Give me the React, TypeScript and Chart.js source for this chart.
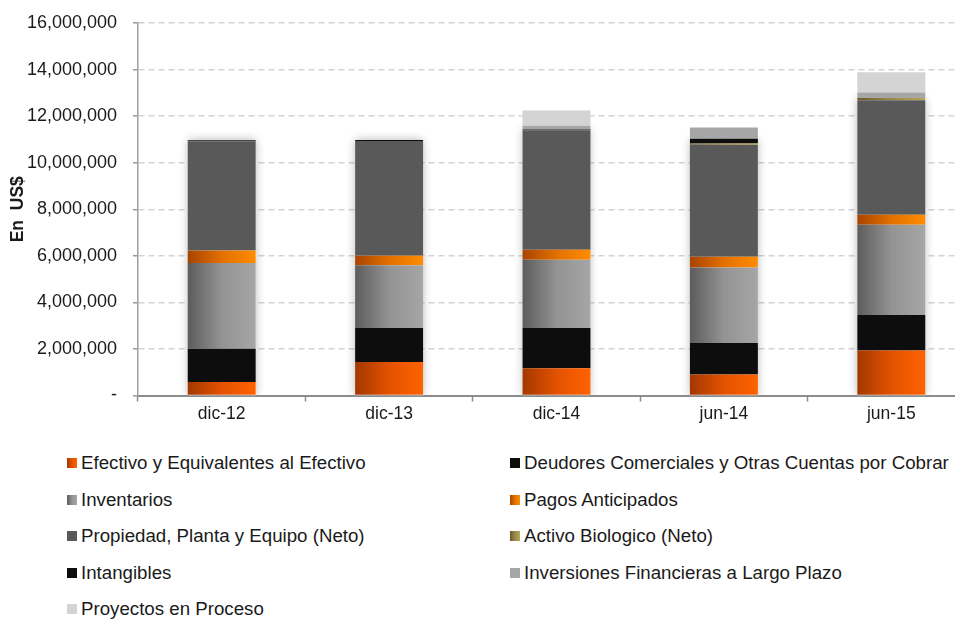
import React, { useEffect, useRef } from "react";
import { Chart, registerables } from "chart.js";

Chart.register(...registerables);

const categories = ["dic-12", "dic-13", "dic-14", "jun-14", "jun-15"];

const efectivo = [580000, 1440000, 1170000, 900000, 1930000];
const deudores = [1430000, 1460000, 1730000, 1360000, 1530000];
const inventarios = [3680000, 2700000, 2930000, 3240000, 3870000];
const pagos = [540000, 400000, 430000, 460000, 430000];
const propiedad = [4690000, 4930000, 5130000, 4810000, 4920000];
const activoBio = [0, 0, 0, 50000, 100000];
const intangibles = [40000, 40000, 40000, 210000, 0];
const inversiones = [0, 0, 160000, 480000, 240000];
const proyectos = [0, 0, 650000, 0, 860000];

const yTicks = [0, 2000000, 4000000, 6000000, 8000000, 10000000, 12000000, 14000000, 16000000];

const FONT = "'Liberation Sans', Arial, Helvetica, sans-serif";
const TEXT = "#1a1a1a";
const BAR_PCT = 0.406;

type Spec = { label: string; data: number[]; stops: string[]; shadow: boolean };

const series: Spec[] = [
  { label: "Efectivo y Equivalentes al Efectivo", data: efectivo, stops: ["#a33800", "#e35200", "#ff6200"], shadow: true },
  { label: "Deudores Comerciales y Otras Cuentas por Cobrar", data: deudores, stops: ["#0d0d0d"], shadow: true },
  { label: "Inventarios", data: inventarios, stops: ["#5c5c5c", "#939393", "#a6a6a6"], shadow: true },
  { label: "Pagos Anticipados", data: pagos, stops: ["#a84400", "#e27000", "#ff8c00"], shadow: true },
  { label: "Propiedad, Planta y Equipo (Neto)", data: propiedad, stops: ["#595959"], shadow: true },
  { label: "Activo Biologico (Neto)", data: activoBio, stops: ["#6b5a2e", "#9a8a48", "#b8a658"], shadow: true },
  { label: "Intangibles", data: intangibles, stops: ["#0d0d0d"], shadow: true },
  { label: "Inversiones Financieras a Largo Plazo", data: inversiones, stops: ["#a6a6a6"], shadow: false },
  { label: "Proyectos en Proceso", data: proyectos, stops: ["#d4d4d4"], shadow: false },
];

function cssFill(stops: string[]) {
  if (stops.length === 1) return stops[0];
  return `linear-gradient(to right, ${stops.join(", ")})`;
}

function barFill(stops: string[]) {
  if (stops.length === 1) return stops[0];
  return (ctx: any) => {
    const chart = ctx.chart;
    const xs = chart.scales && chart.scales.x;
    if (!chart.chartArea || !xs) return stops[stops.length - 1];
    const center = xs.getPixelForValue(ctx.dataIndex);
    const half = ((chart.chartArea.right - chart.chartArea.left) / categories.length) * BAR_PCT / 2;
    const g = chart.ctx.createLinearGradient(center - half, 0, center + half, 0);
    stops.forEach((s, i) => g.addColorStop(i / (stops.length - 1), s));
    return g;
  };
}

const shadowPlugin = {
  id: "stackShadow",
  beforeDatasetsDraw(chart: any) {
    const { ctx, chartArea, scales } = chart;
    const meta = chart.getDatasetMeta(0);
    ctx.save();
    ctx.beginPath();
    ctx.rect(chartArea.left, chartArea.top - 20, chartArea.right - chartArea.left, chartArea.bottom - chartArea.top + 20);
    ctx.clip();
    categories.forEach((_, i) => {
      const total = series.filter((d) => d.shadow).reduce((s, d) => s + d.data[i], 0);
      const el = meta.data[i];
      if (!el) return;
      const w = el.width;
      const x = scales.x.getPixelForValue(i) - w / 2;
      const top = scales.y.getPixelForValue(total);
      const bottom = scales.y.getPixelForValue(0);
      ctx.shadowColor = "rgba(0,0,0,0.3)";
      ctx.shadowBlur = 9;
      ctx.shadowOffsetX = 0;
      ctx.shadowOffsetY = 0;
      ctx.fillStyle = "#ffffff";
      ctx.fillRect(x, top, w, bottom - top);
    });
    ctx.restore();
  },
};

export default function App() {
  const ref = useRef<HTMLCanvasElement | null>(null);

  useEffect(() => {
    if (!ref.current) return;
    const chart = new Chart(ref.current, {
      type: "bar",
      data: {
        labels: categories,
        datasets: series.map((s) => ({
          label: s.label,
          data: s.data,
          backgroundColor: barFill(s.stops) as any,
          borderWidth: 0,
          barPercentage: BAR_PCT,
          categoryPercentage: 1,
        })),
      },
      options: {
        responsive: false,
        animation: false,
        devicePixelRatio: 1,
        layout: { padding: { top: 15, left: 0, right: 0, bottom: 0 } },
        plugins: { legend: { display: false }, tooltip: { enabled: false } },
        scales: {
          x: {
            stacked: true,
            offset: true,
            afterFit: (s: any) => {
              s.height = 44.5;
            },
            grid: {
              display: true,
              drawOnChartArea: false,
              drawTicks: true,
              offset: true,
              tickLength: 6,
              tickColor: "#8c8c8c",
              tickWidth: 1.5,
            },
            border: { display: true, color: "#8c8c8c", width: 2 },
            ticks: { color: TEXT, font: { family: FONT, size: 17.5 }, padding: 2 },
          },
          y: {
            stacked: true,
            min: 0,
            max: 16000000,
            afterFit: (s: any) => {
              s.width = 130;
              s.paddingTop = 10;
              s.paddingBottom = 10;
            },
            afterBuildTicks: (s: any) => {
              s.ticks = yTicks.map((v) => ({ value: v }));
            },
            grid: {
              color: "#d3d3d3",
              lineWidth: 1.5,
              drawTicks: true,
              tickLength: 5,
              tickColor: "#9a9a9a",
              tickWidth: 1.5,
              tickBorderDash: [],
            } as any,
            border: { display: true, color: "#a0a0a0", width: 1.5, dash: [6, 4] },
            ticks: {
              color: TEXT,
              font: { family: FONT, size: 18 },
              padding: 16,
              callback: (v: any) => (Number(v) === 0 ? "-" : Number(v).toLocaleString("en-US")),
            },
            title: {
              display: true,
              text: "En  US$",
              color: TEXT,
              font: { family: FONT, size: 17.5, weight: "bold" },
              padding: 0,
            },
          },
        },
      },
      plugins: [shadowPlugin],
    });
    return () => chart.destroy();
  }, []);

  return (
    <div style={{ width: 955, overflow: "hidden", fontFamily: FONT, color: TEXT }}>
      <canvas ref={ref} width={967} height={432} style={{ display: "block" }} />
      <div
        style={{
          display: "grid",
          gridTemplateColumns: "443px 1fr",
          paddingLeft: 59,
          marginTop: 5,
        }}
      >
        {series.map((s) => (
          <div
            key={s.label}
            style={{
              display: "flex",
              alignItems: "center",
              height: 36.5,
              fontSize: 18.7,
              whiteSpace: "nowrap",
            }}
          >
            <span
              style={{
                display: "inline-block",
                width: 10,
                height: 10,
                marginRight: 4,
                background: cssFill(s.stops),
                flex: "none",
              }}
            />
            <span>{s.label}</span>
          </div>
        ))}
      </div>
    </div>
  );
}
